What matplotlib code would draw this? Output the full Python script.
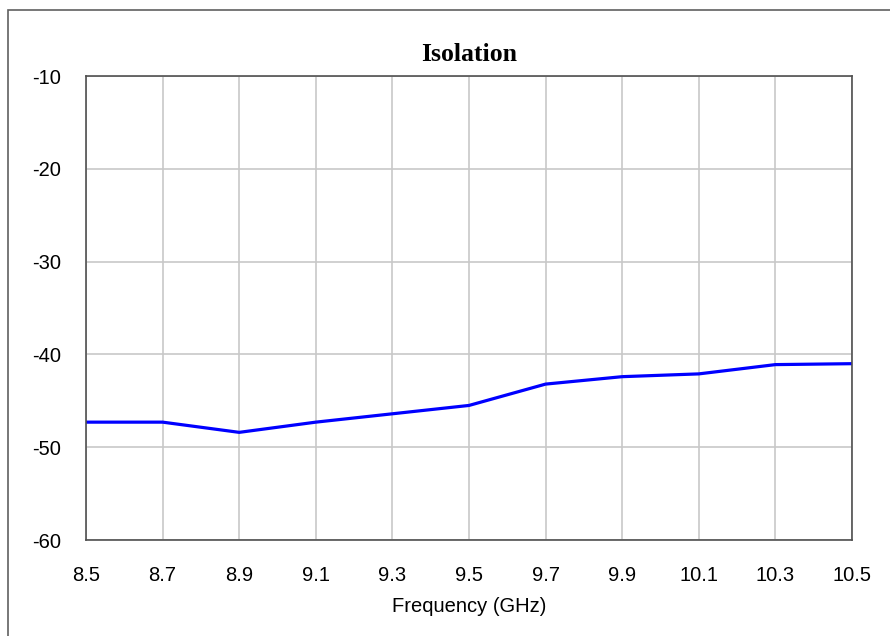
import matplotlib
matplotlib.use("Agg")
import matplotlib.pyplot as plt
from matplotlib.patches import Rectangle

# Isolation vs frequency
freq = [8.5, 8.7, 8.9, 9.1, 9.3, 9.5, 9.7, 9.9, 10.1, 10.3, 10.5]
isolation = [-47.3, -47.3, -48.4, -47.3, -46.4, -45.5, -43.2, -42.4, -42.1, -41.1, -41.0]
xticks = [8.5, 8.7, 8.9, 9.1, 9.3, 9.5, 9.7, 9.9, 10.1, 10.3, 10.5]
yticks = [-60, -50, -40, -30, -20, -10]

plt.rcParams['font.family'] = ['Liberation Sans', 'DejaVu Sans']
plt.rcParams['axes.unicode_minus'] = False

fig = plt.figure(figsize=(8.9, 6.36), dpi=100)
ax = fig.add_axes([86 / 890, 96 / 636, 766 / 890, 464 / 636])

# outer frame (only left and top visible in the original)
fig.patches.append(Rectangle((8 / 890, -0.1), 1.2, 1.1 - 10 / 636,
                             transform=fig.transFigure, fill=False,
                             edgecolor='#606060', linewidth=1.2))

ax.plot(freq, isolation, color='#0000ff', linewidth=2.3, solid_joinstyle='miter')

ax.set_xlim(8.5, 10.5)
ax.set_ylim(-60, -10)
ax.set_xticks(xticks)
ax.set_xticklabels([f"{v:g}" for v in xticks])
ax.set_yticks(yticks)
ax.set_yticklabels([str(v) for v in yticks])
ax.grid(True, color='#c8c8c8', linewidth=1.2)
ax.set_axisbelow(True)

for s in ax.spines.values():
    s.set_color('#505050')
    s.set_linewidth(1.2)

ax.tick_params(axis='x', length=0, pad=19, labelsize=14.5)
ax.tick_params(axis='y', length=0, pad=18, labelsize=14.5)

ax.set_xlabel("Frequency (GHz)", fontsize=14.5, labelpad=8)
ax.set_title("Isolation", fontsize=18.5, fontweight='bold',
             family=['Liberation Serif', 'DejaVu Serif'], pad=11)

fig.savefig("out.png", dpi=100)
